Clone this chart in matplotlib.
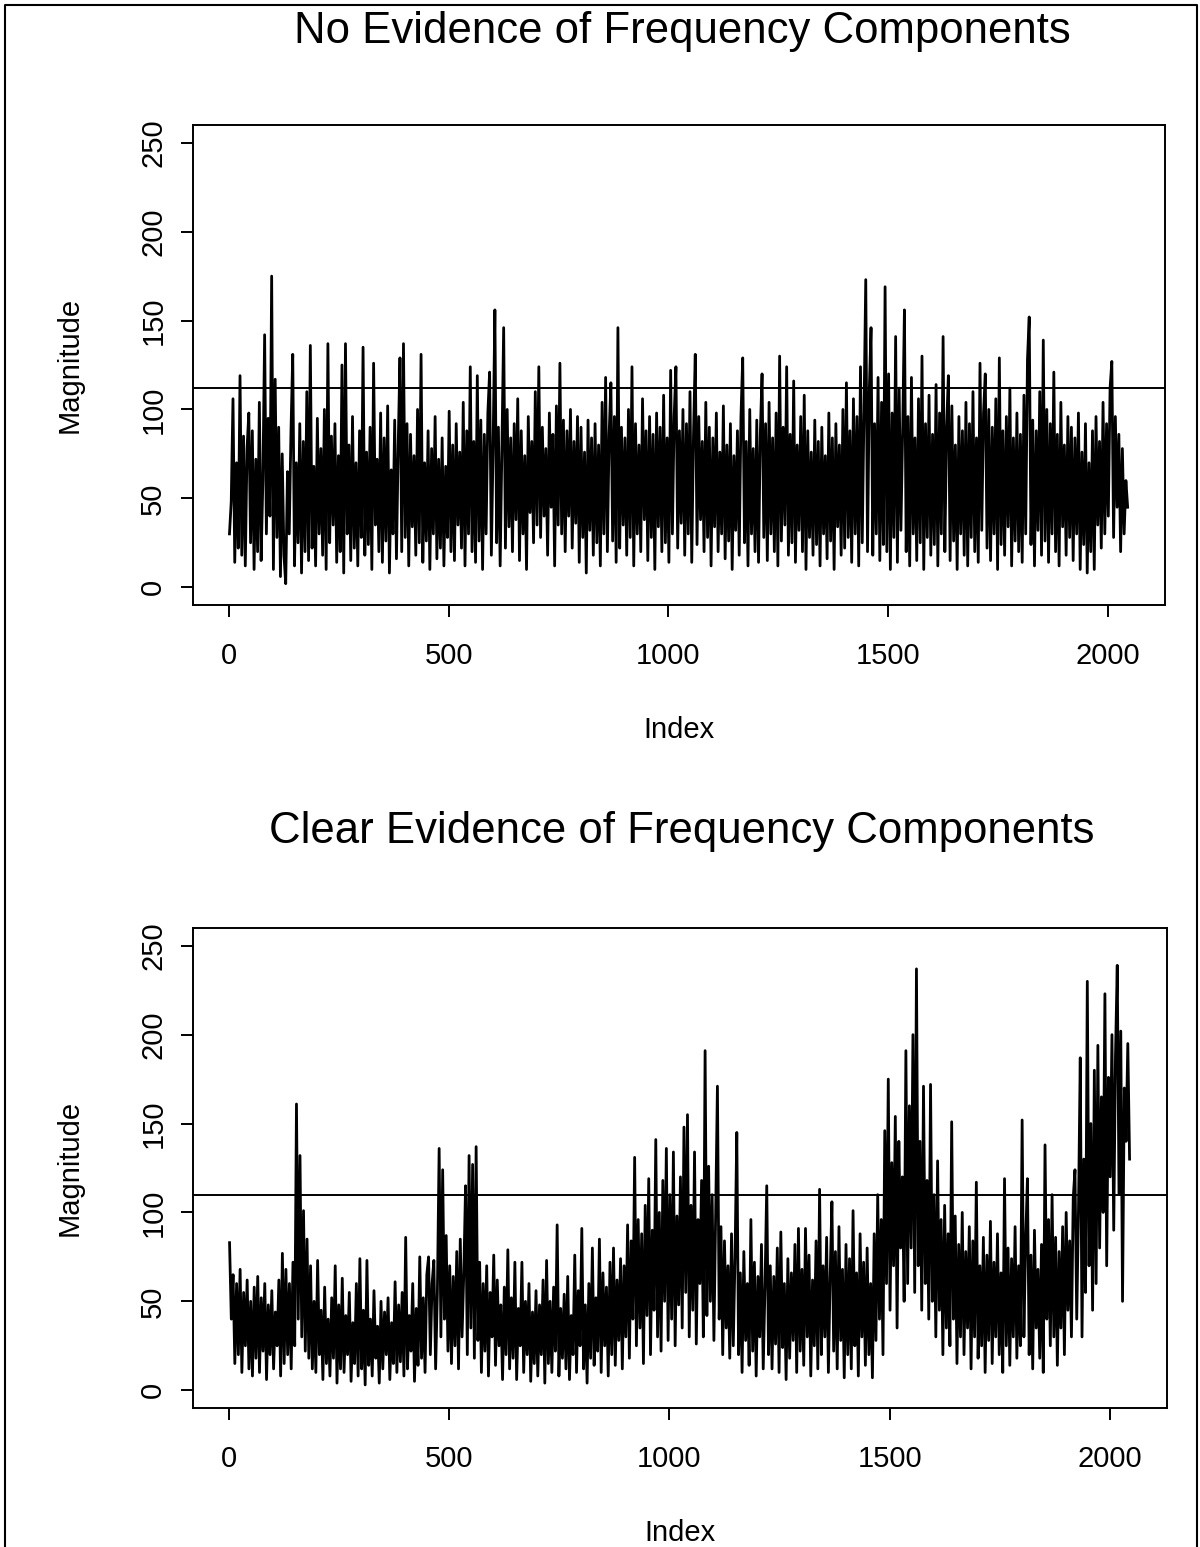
import numpy as np
import matplotlib
matplotlib.use("Agg")
import matplotlib.pyplot as plt
from matplotlib.lines import Line2D

plt.rcParams["font.family"] = ["Liberation Sans", "DejaVu Sans"]

# magnitudes, one value every 4 indices (1, 5, 9, ...)
no_evidence = [
    30, 48, 106, 14, 70, 22, 119, 18, 85, 12, 78, 98, 25, 88, 10, 72,
    20, 104, 15, 60, 142, 30, 95, 40, 175, 10, 117, 28, 90, 6, 75, 18,
    2, 65, 30, 88, 131, 12, 70, 25, 92, 8, 82, 20, 110, 15, 136, 22,
    68, 12, 95, 30, 78, 18, 100, 10, 137, 25, 85, 35, 92, 14, 74, 20,
    125, 8, 137, 30, 80, 15, 96, 22, 70, 12, 88, 28, 135, 18, 76, 24,
    90, 10, 126, 35, 72, 20, 98, 14, 84, 26, 102, 8, 66, 30, 94, 16,
    80, 129, 20, 137, 28, 92, 12, 86, 34, 74, 18, 100, 25, 131, 14, 70,
    26, 88, 10, 78, 30, 96, 16, 72, 22, 84, 12, 68, 28, 99, 20, 80,
    15, 92, 35, 76, 22, 104, 12, 88, 30, 124, 20, 82, 14, 119, 26, 94,
    10, 86, 30, 98, 121, 18, 80, 156, 25, 90, 12, 78, 146, 22, 100, 34,
    84, 20, 92, 38, 106, 15, 88, 30, 74, 10, 96, 42, 82, 25, 110, 35,
    124, 28, 90, 40, 78, 18, 98, 45, 86, 12, 102, 35, 126, 30, 94, 20,
    88, 40, 100, 22, 82, 36, 96, 14, 90, 28, 76, 8, 94, 32, 84, 18,
    92, 25, 80, 12, 104, 30, 118, 20, 86, 115, 26, 96, 14, 146, 22, 90,
    35, 84, 18, 100, 28, 124, 12, 92, 30, 80, 20, 106, 38, 88, 15, 96,
    28, 86, 10, 98, 34, 90, 20, 108, 25, 84, 14, 122, 30, 96, 124, 22,
    88, 36, 100, 18, 92, 30, 110, 14, 86, 131, 24, 96, 38, 82, 20, 104,
    28, 90, 12, 84, 34, 98, 20, 76, 30, 102, 16, 80, 26, 92, 10, 74,
    32, 88, 18, 96, 129, 25, 82, 12, 100, 30, 78, 20, 94, 14, 86, 120,
    28, 92, 15, 104, 30, 84, 20, 98, 12, 130, 26, 90, 35, 124, 18, 86,
    25, 116, 14, 80, 32, 96, 20, 108, 10, 88, 28, 76, 18, 94, 24, 82,
    12, 90, 30, 74, 16, 98, 26, 84, 10, 92, 34, 80, 18, 100, 22, 115,
    28, 88, 14, 106, 30, 96, 12, 124, 25, 100, 173, 20, 110, 146, 18, 92,
    30, 118, 15, 104, 24, 169, 20, 120, 10, 98, 28, 141, 14, 112, 32, 88,
    156, 20, 96, 12, 118, 30, 84, 15, 106, 25, 130, 10, 92, 28, 108, 18,
    86, 24, 114, 12, 98, 30, 141, 20, 90, 119, 15, 102, 26, 80, 10, 96,
    30, 88, 18, 104, 12, 92, 28, 110, 20, 84, 14, 126, 32, 98, 120, 22,
    100, 15, 90, 30, 106, 10, 129, 24, 88, 18, 96, 34, 112, 12, 84, 26,
    98, 20, 86, 14, 108, 30, 128, 152, 24, 94, 12, 88, 32, 110, 18, 139,
    26, 100, 14, 92, 30, 121, 20, 86, 12, 104, 34, 80, 18, 96, 28, 90,
    15, 84, 30, 98, 10, 76, 24, 92, 8, 70, 20, 88, 10, 96, 35, 82,
    22, 104, 30, 92, 40, 112, 127, 28, 96, 45, 86, 20, 78, 30, 60, 45,
]

clear_evidence = [
    83, 40, 65, 15, 60, 20, 68, 10, 55, 25, 62, 12, 50, 8, 58, 18,
    64, 10, 52, 22, 60, 6, 48, 20, 56, 12, 44, 25, 62, 8, 77, 15,
    68, 20, 60, 12, 72, 25, 161, 40, 132, 30, 101, 22, 85, 18, 70, 12,
    50, 10, 73, 20, 45, 6, 58, 15, 40, 8, 52, 18, 70, 4, 48, 12,
    63, 10, 42, 20, 55, 5, 38, 15, 60, 8, 74, 12, 45, 3, 73, 14,
    40, 8, 56, 18, 36, 4, 50, 12, 44, 20, 52, 6, 38, 15, 61, 10,
    48, 16, 55, 8, 86, 12, 42, 22, 60, 5, 46, 14, 75, 18, 52, 10,
    65, 75, 20, 60, 73, 12, 55, 136, 30, 124, 40, 87, 22, 70, 15, 64,
    25, 78, 12, 85, 30, 66, 115, 20, 132, 35, 127, 18, 137, 28, 72, 10,
    60, 22, 70, 8, 55, 30, 76, 14, 62, 25, 48, 6, 58, 20, 79, 12,
    52, 18, 72, 6, 46, 25, 72, 10, 50, 20, 60, 5, 44, 15, 56, 8,
    48, 20, 62, 4, 73, 15, 50, 10, 58, 22, 93, 8, 46, 18, 54, 12,
    64, 6, 42, 20, 76, 10, 56, 25, 91, 12, 48, 4, 60, 18, 80, 14,
    52, 22, 85, 10, 66, 25, 58, 8, 72, 20, 80, 14, 62, 28, 74, 12,
    70, 30, 93, 18, 84, 40, 131, 25, 96, 35, 88, 15, 104, 42, 119, 20,
    90, 45, 141, 30, 100, 22, 118, 50, 136, 28, 110, 40, 134, 25, 98, 48,
    120, 35, 148, 55, 155, 30, 104, 45, 134, 26, 96, 60, 118, 30, 191, 42,
    126, 50, 110, 28, 98, 171, 40, 92, 20, 84, 35, 70, 18, 88, 25, 76,
    145, 20, 66, 10, 78, 28, 60, 14, 96, 22, 72, 8, 64, 30, 82, 12,
    58, 115, 20, 70, 12, 64, 26, 80, 10, 89, 24, 60, 6, 74, 18, 66,
    28, 82, 10, 91, 22, 68, 14, 91, 30, 76, 8, 62, 25, 84, 12, 113,
    20, 70, 30, 86, 10, 64, 106, 22, 78, 12, 92, 28, 68, 7, 82, 20,
    74, 12, 101, 25, 66, 8, 88, 30, 72, 14, 80, 20, 60, 7, 88, 28,
    110, 40, 96, 20, 146, 60, 175, 45, 128, 70, 154, 35, 140, 80, 120, 50,
    191, 60, 160, 80, 200, 55, 237, 70, 140, 45, 171, 60, 118, 40, 172, 50,
    110, 30, 129, 45, 96, 20, 104, 35, 88, 25, 151, 40, 98, 15, 82, 30,
    100, 20, 78, 35, 92, 12, 84, 30, 117, 18, 70, 25, 86, 10, 76, 28,
    95, 15, 72, 30, 88, 20, 66, 10, 119, 25, 80, 14, 74, 30, 92, 18,
    70, 25, 152, 30, 84, 119, 20, 76, 12, 90, 35, 68, 18, 82, 10, 138,
    40, 96, 25, 110, 30, 86, 14, 78, 35, 92, 20, 100, 45, 84, 30, 108,
    124, 40, 102, 187, 30, 130, 55, 230, 70, 150, 45, 180, 60, 194, 80, 165,
    100, 223, 70, 176, 120, 200, 90, 188, 239, 110, 202, 50, 170, 140, 195, 130,
]

thresholds = [112, 110]
titles = ["No Evidence of Frequency Components",
          "Clear Evidence of Frequency Components"]
x_ticks = [0, 500, 1000, 1500, 2000]
y_ticks = [0, 50, 100, 150, 200, 250]

W, H = 1200, 1547
fig = plt.figure(figsize=(W / 100, H / 100), dpi=100)

# outer frame of the scanned page (left, top, right)
fx0, fx1, fy1 = 5 / W, 1197 / W, 1 - 5 / H
fig.add_artist(Line2D([fx0, fx0, fx1, fx1], [0, fy1, fy1, 0],
                      transform=fig.transFigure, color="black", lw=1.5))

panels = [
    # left, top, right, bottom in pixels, title y
    (193, 125, 1165, 605, 32),
    (193, 928, 1167, 1408, 832),
]
series = [no_evidence, clear_evidence]

for (l, t, r, b, ty), y, thr, title in zip(panels, series, thresholds, titles):
    ax = fig.add_axes([l / W, 1 - b / H, (r - l) / W, (b - t) / H])
    x = 1 + 4 * np.arange(len(y))
    ax.plot(x, y, color="black", lw=2.0)
    ax.axhline(thr, color="black", lw=1.4)
    ax.set_xlim(-82, 2130)
    ax.set_ylim(-10, 260)
    ax.set_xticks(x_ticks)
    ax.set_yticks(y_ticks)
    for s in ax.spines.values():
        s.set_linewidth(1.4)
    ax.tick_params(direction="out", length=8.6, width=1.4, labelsize=21)
    ax.tick_params(axis="x", pad=18)
    ax.tick_params(axis="y", pad=20)
    for lab in ax.get_yticklabels():
        lab.set_rotation(90)
        lab.set_va("center")
        lab.set_ha("center")
    ax.set_xlabel("Index", fontsize=21)
    ax.set_ylabel("Magnitude", fontsize=21)
    ax.xaxis.set_label_coords(0.5, -125 / (b - t))
    ax.xaxis.label.set_va("center")
    ax.yaxis.set_label_coords((70 - l) / (r - l), 0.5)
    ax.yaxis.label.set_va("center")
    fig.text(682 / W, 1 - ty / H, title, fontsize=31.5, ha="center", va="center")

fig.savefig("out.png", dpi=100)
